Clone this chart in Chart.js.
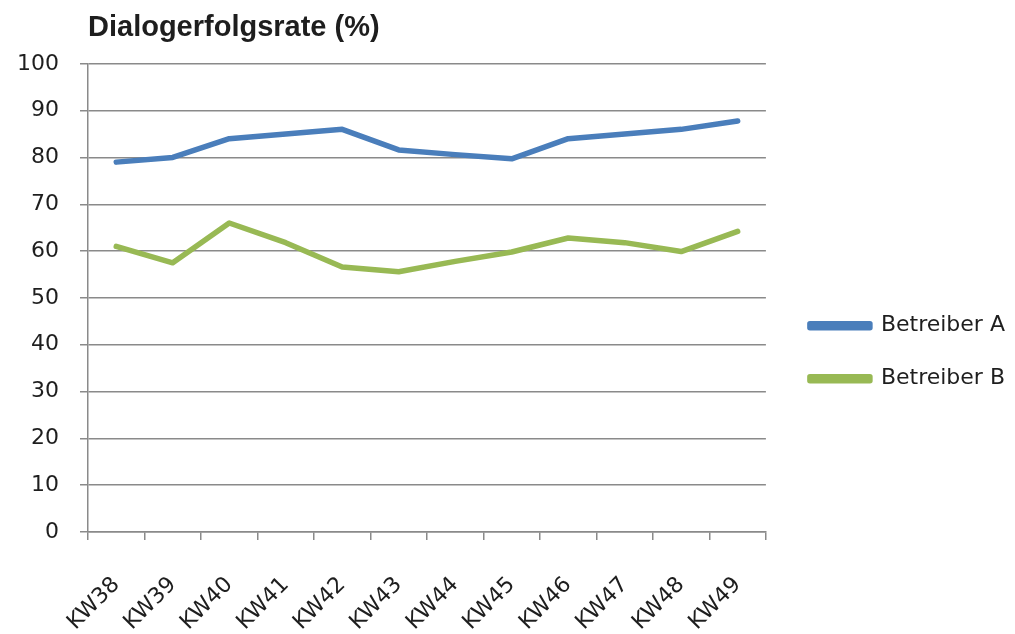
<!DOCTYPE html>
<html>
<head>
<meta charset="utf-8">
<script src="https://cdn.jsdelivr.net/npm/chart.js@4/dist/chart.umd.min.js"></script>
<style>
    html, body { margin: 0; padding: 0; background: #fff; }
    #wrap { width: 1015px; height: 634px; }
</style>
</head>
<body>
<div id="wrap"><canvas id="line-chart" width="1015" height="634"></canvas></div>
<script>
// data
const weeks = ['KW38', 'KW39', 'KW40', 'KW41', 'KW42', 'KW43', 'KW44', 'KW45', 'KW46', 'KW47', 'KW48', 'KW49'];
const betreiberA = [79, 80, 84, 85, 86, 81.6, 80.6, 79.7, 84, 85, 86, 87.8];
const betreiberB = [61, 57.5, 66, 61.8, 56.6, 55.6, 57.8, 59.8, 62.8, 61.8, 59.9, 64.2];
const yTicks = [0, 10, 20, 30, 40, 50, 60, 70, 80, 90, 100];

const gridColor = '#8a8a8a';
const textColor = '#1e1e1e';

let options = {
    type: 'line',
    data: {
        labels: weeks,
        datasets: [{
            label: 'Betreiber A',
            data: betreiberA,
            borderColor: '#4a7ebb',
            backgroundColor: '#4a7ebb',
            borderWidth: 5.5
        }, {
            label: 'Betreiber B',
            data: betreiberB,
            borderColor: '#98b954',
            backgroundColor: '#98b954',
            borderWidth: 5.5
        }]
    },
    options: {
        responsive: false,
        animation: false,
        layout: { padding: { left: 0, right: 0, top: 11, bottom: 0 } },
        elements: {
            line: { tension: 0, borderJoinStyle: 'round', borderCapStyle: 'round' },
            point: { radius: 0, hoverRadius: 0 }
        },
        plugins: {
            tooltip: { enabled: false },
            title: {
                display: true,
                text: 'Dialogerfolgsrate (%)',
                align: 'start',
                fullSize: false,
                color: textColor,
                font: { family: 'Liberation Sans', size: 29, weight: 'bold' },
                padding: { top: 0, bottom: 18 }
            },
            legend: {
                position: 'right',
                maxWidth: 260,
                title: { display: true, text: ' ', padding: { top: 22, bottom: 23 } },
                labels: {
                    boxWidth: 60,
                    boxHeight: 4,
                    padding: 31,
                    color: textColor,
                    font: { family: 'DejaVu Sans', size: 22 }
                }
            }
        },
        scales: {
            x: {
                offset: true,
                afterFit: (axis) => { axis.height = 102; },
                grid: {
                    display: true,
                    offset: true,
                    drawOnChartArea: false,
                    drawTicks: true,
                    tickLength: 8,
                    color: gridColor,
                    lineWidth: 1.5
                },
                border: { color: gridColor, width: 1.5 },
                ticks: {
                    minRotation: 45,
                    maxRotation: 45,
                    color: textColor,
                    padding: 32,
                    font: { family: 'DejaVu Sans', size: 22 }
                }
            },
            y: {
                min: 0,
                max: 100,
                afterFit: (axis) => { axis.width = 88; },
                afterBuildTicks: (axis) => {
                    axis.ticks = yTicks.map(v => ({ value: v }));
                },
                grid: {
                    color: gridColor,
                    lineWidth: 1.5,
                    tickLength: 8
                },
                border: { color: gridColor, width: 1.5 },
                ticks: {
                    color: textColor,
                    padding: 21,
                    font: { family: 'DejaVu Sans', size: 22 }
                }
            },
            // empty spacer between plot and legend
            gap: {
                type: 'linear',
                position: 'right',
                display: true,
                afterFit: (axis) => { axis.width = 13; },
                grid: { display: false },
                border: { display: false },
                ticks: { display: false }
            }
        }
    }
};

new Chart(document.getElementById('line-chart'), options);
</script>
</body>
</html>
